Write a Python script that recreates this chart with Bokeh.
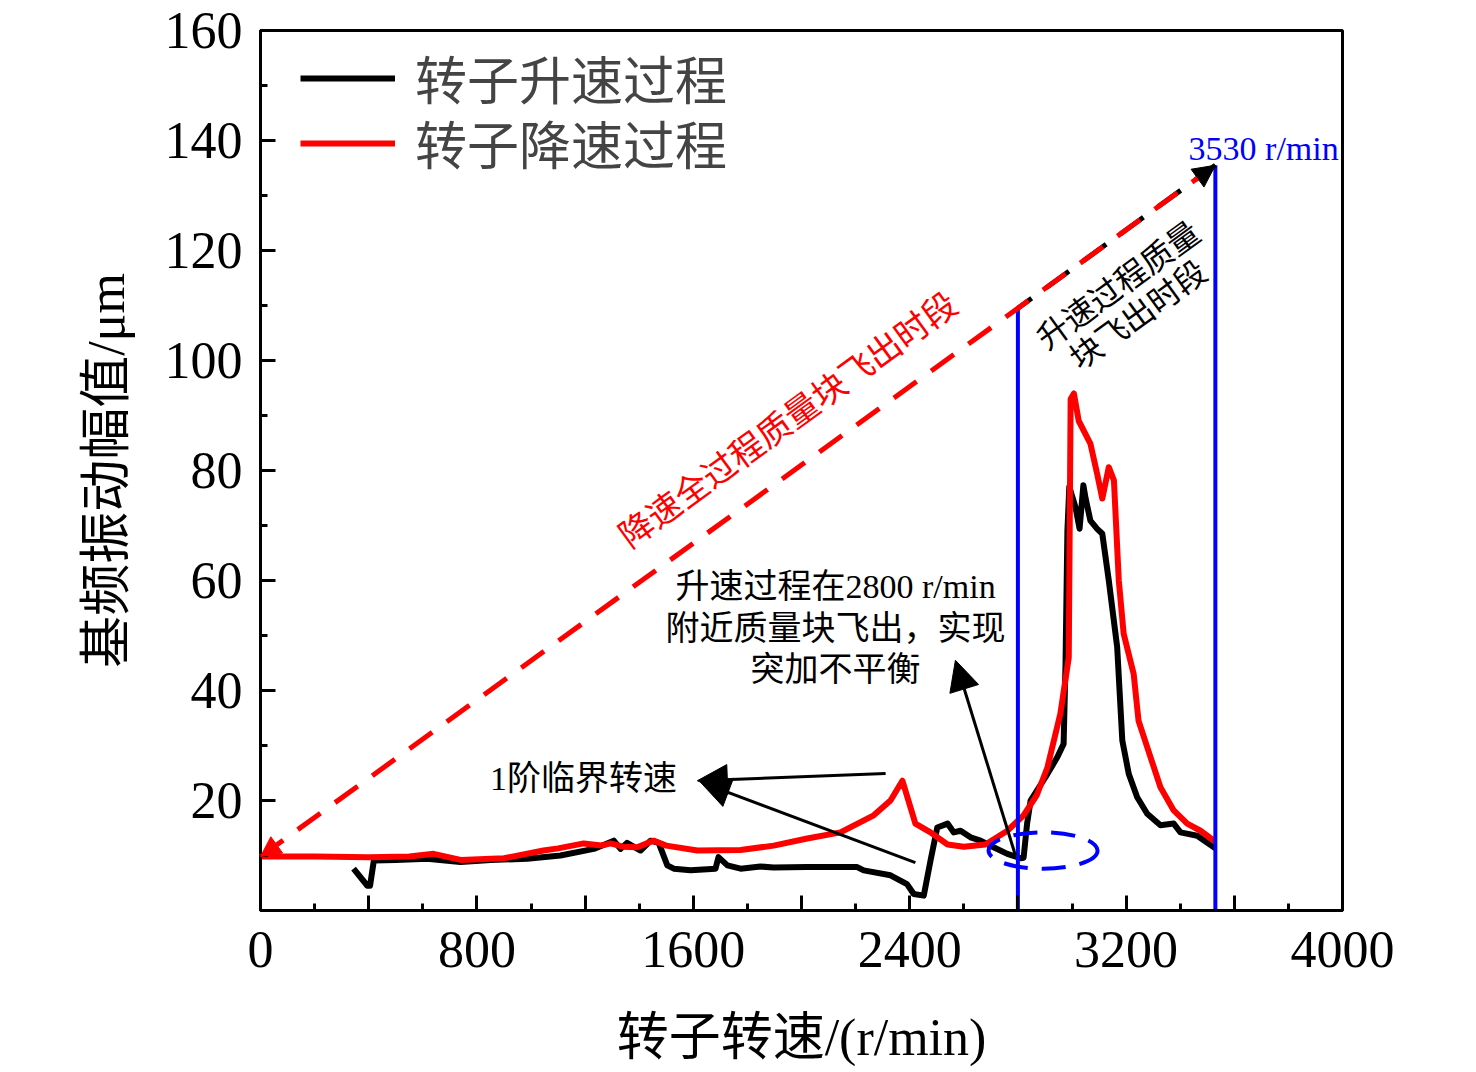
from bokeh.plotting import figure
from bokeh.models import Range1d, FixedTicker, Arrow, NormalHead, Legend, LegendItem
from bokeh.core.properties import value
from bokeh.embed import file_html
from bokeh.resources import INLINE

SERIF = "Liberation Serif, Noto Sans CJK SC"

# 转子升速过程 (r/min, μm)
up_speed = [344, 395, 405, 419, 500, 616, 739, 850, 986, 1109, 1232, 1306, 1331, 1355,
            1405, 1442, 1472, 1504, 1528, 1590, 1652, 1682, 1693, 1726, 1775, 1848, 1897,
            2021, 2206, 2230, 2329, 2390, 2415, 2452, 2477, 2502, 2540, 2563, 2588, 2625,
            2662, 2710, 2761, 2810, 2821, 2834, 2847, 2909, 2946, 2969, 2976, 2983, 2990,
            3013, 3028, 3042, 3050, 3068, 3093, 3112, 3136, 3167, 3186, 3210, 3241, 3278,
            3327, 3376, 3401, 3463, 3530]
up_amp = [7.6, 4.5, 4.5, 9.1, 9.2, 9.4, 8.8, 9.2, 9.4, 10.0, 11.2, 12.7, 11.2, 12.3,
          10.9, 12.7, 12.3, 8.2, 7.6, 7.3, 7.5, 7.6, 9.7, 8.2, 7.6, 8.0, 7.8,
          7.9, 7.9, 7.3, 6.4, 4.8, 3.0, 2.7, 9.1, 15.1, 15.8, 14.2, 14.5, 13.3,
          12.7, 11.5, 10.3, 9.5, 9.6, 15.8, 20.0, 24.8, 27.9, 30.3, 44.8, 69.0, 77.0,
          73.3, 69.4, 77.3, 75.0, 70.9, 69.4, 68.5, 60.0, 47.9, 30.9, 24.8, 20.6, 17.6,
          15.5, 15.8, 14.2, 13.6, 11.3]

# 转子降速过程
down_speed = [0, 200, 400, 550, 640, 740, 900, 1046, 1100, 1195, 1260, 1294, 1340, 1393,
              1453, 1500, 1615, 1775, 1897, 2021, 2144, 2267, 2329, 2373, 2421, 2477,
              2540, 2600, 2680, 2761, 2821, 2870, 2909, 2957, 2988, 2995, 3007, 3025,
              3068, 3093, 3112, 3136, 3155, 3173, 3191, 3228, 3246, 3278, 3327, 3376,
              3426, 3475, 3530]
down_amp = [9.8, 9.8, 9.7, 9.8, 10.3, 9.2, 9.5, 10.9, 11.3, 12.2, 11.8, 12.2, 11.6, 11.5,
            12.7, 11.8, 10.9, 11.0, 11.8, 13.1, 14.2, 17.3, 20.0, 23.6, 15.8, 14.2,
            12.0, 11.6, 12.0, 14.5, 17.3, 21.0, 26.0, 35.8, 46.0, 93.0, 94.0, 89.0,
            84.9, 79.4, 74.9, 80.6, 78.2, 60.0, 50.3, 43.0, 34.5, 29.7, 22.4, 18.2,
            15.8, 14.5, 12.5]

# 坐标轴刻度
x_ticks = [0, 400, 800, 1200, 1600, 2000, 2400, 2800, 3200, 3600, 4000]
x_minor = [200, 600, 1000, 1400, 1800, 2200, 2600, 3000, 3400, 3800]
x_labels = {400: "", 1200: "", 2000: "", 2800: "", 3600: ""}
y_ticks = [20, 40, 60, 80, 100, 120, 140, 160]
y_minor = [10, 30, 50, 70, 90, 110, 130, 150]

# 标注: 竖线, 虚线, 椭圆
mark_speed = [2800, 3530]
mark_top = [109.5, 135.5]
dash_start = (0, 9.8)
dash_end = (3530, 135.5)
ellipse_c = (2893, 10.9)
ellipse_size = (403, 6.6)

# 文字标注
note_x = [2126, 2126, 2126, 1194]
note_y = [58.9, 51.3, 43.8, 24.0]
note_text = ["升速过程在2800 r/min", "附近质量块飞出，实现", "突加不平衡", "1阶临界转速"]
slant_x = [1952, 3172, 3246]
slant_y = [89.1, 113.6, 108.2]
slant_text = ["降速全过程质量块飞出时段", "升速过程质量", "块飞出时段"]
slant_color = ["red", "black", "black"]
slant_size = ["34px", "32px", "32px"]

# 箭头 (起点 -> 终点)
arrow_x0 = [2311, 2421, 2791]
arrow_y0 = [24.9, 8.7, 10.0]
arrow_x1 = [1615, 1625, 2569]
arrow_y1 = [23.6, 23.4, 45.5]

p = figure(width=1460, height=1069, x_range=Range1d(0, 4000), y_range=Range1d(0, 160),
           output_backend="svg", toolbar_location=None,
           min_border_left=260, min_border_right=118, min_border_top=30, min_border_bottom=159)
p.xgrid.visible = False
p.ygrid.visible = False
p.outline_line_color = "black"
p.outline_line_width = 3
p.outline_line_alpha = 1

p.xaxis.ticker = FixedTicker(ticks=x_ticks, minor_ticks=x_minor)
p.xaxis.major_label_overrides = x_labels
p.yaxis.ticker = FixedTicker(ticks=y_ticks, minor_ticks=y_minor)
p.xaxis.axis_label = "转子转速/(r/min)"
p.yaxis.axis_label = "基频振动幅值/μm"

for ax in (p.xaxis[0], p.yaxis[0]):
    ax.axis_line_width = 3
    ax.major_tick_line_width = 3
    ax.minor_tick_line_width = 3
    ax.major_tick_in = 15
    ax.major_tick_out = 0
    ax.minor_tick_in = 7
    ax.minor_tick_out = 0
    ax.major_label_text_font = SERIF
    ax.major_label_text_font_size = "52px"
    ax.major_label_text_color = "black"
    ax.axis_label_text_font = SERIF
    ax.axis_label_text_font_size = "52px"
    ax.axis_label_text_font_style = "normal"
    ax.axis_label_text_color = "black"
p.xaxis.major_label_standoff = 21
p.xaxis.axis_label_standoff = 39
p.yaxis.major_label_standoff = 18
p.yaxis.axis_label_standoff = 27

r_up = p.line(up_speed, up_amp, line_color="black", line_width=6, line_join="round")
r_down = p.line(down_speed, down_amp, line_color="red", line_width=6, line_join="round")

# 质量块飞出时段边界
p.segment(x0=mark_speed, y0=[0, 0], x1=mark_speed, y1=mark_top, line_color="blue", line_width=4)

p.line([mark_speed[0], dash_end[0]], [mark_top[0], dash_end[1]], line_color="black",
       line_width=5, line_dash="28 18", line_dash_offset=11)
p.add_layout(Arrow(start=NormalHead(size=20, fill_color="red", line_color="red"),
                   end=NormalHead(size=22, fill_color="black", line_color="black"),
                   x_start=dash_start[0], y_start=dash_start[1],
                   x_end=dash_end[0], y_end=dash_end[1],
                   line_color="red", line_width=5, line_dash="28 18"))

p.ellipse(x=[ellipse_c[0]], y=[ellipse_c[1]], width=[ellipse_size[0]], height=[ellipse_size[1]],
          fill_color=None, line_color="blue", line_width=4, line_dash="24 14")

for x0, y0, x1, y1 in zip(arrow_x0, arrow_y0, arrow_x1, arrow_y1):
    p.add_layout(Arrow(end=NormalHead(size=30, fill_color="black", line_color="black"),
                       x_start=x0, y_start=y0, x_end=x1, y_end=y1,
                       line_color="black", line_width=3))

p.text(x=note_x, y=note_y, text=note_text, text_font=value(SERIF), text_font_size="34px",
       text_align="center", text_baseline="middle", text_color="black")
p.text(x=slant_x, y=slant_y, text=slant_text, angle=0.628, text_font=value(SERIF),
       text_font_size=slant_size, text_align="center", text_baseline="middle",
       text_color=slant_color)
p.text(x=[3431], y=[138.5], text=["3530 r/min"], text_font=value(SERIF), text_font_size="34px",
       text_align="left", text_baseline="middle", text_color="blue")

# 两个图例条目分开放置, 以控制行距
legend_style = dict(padding=0, margin=0, glyph_width=95, glyph_height=60, label_height=60,
                    label_standoff=20, label_text_font=SERIF, label_text_font_size="52px",
                    border_line_color=None, background_fill_alpha=0)
p.add_layout(Legend(items=[LegendItem(label="转子升速过程", renderers=[r_up])],
                    location=(40, 795), **legend_style))
p.add_layout(Legend(items=[LegendItem(label="转子降速过程", renderers=[r_down])],
                    location=(40, 730), **legend_style))

open("out.html", "w").write(file_html(p, INLINE))
